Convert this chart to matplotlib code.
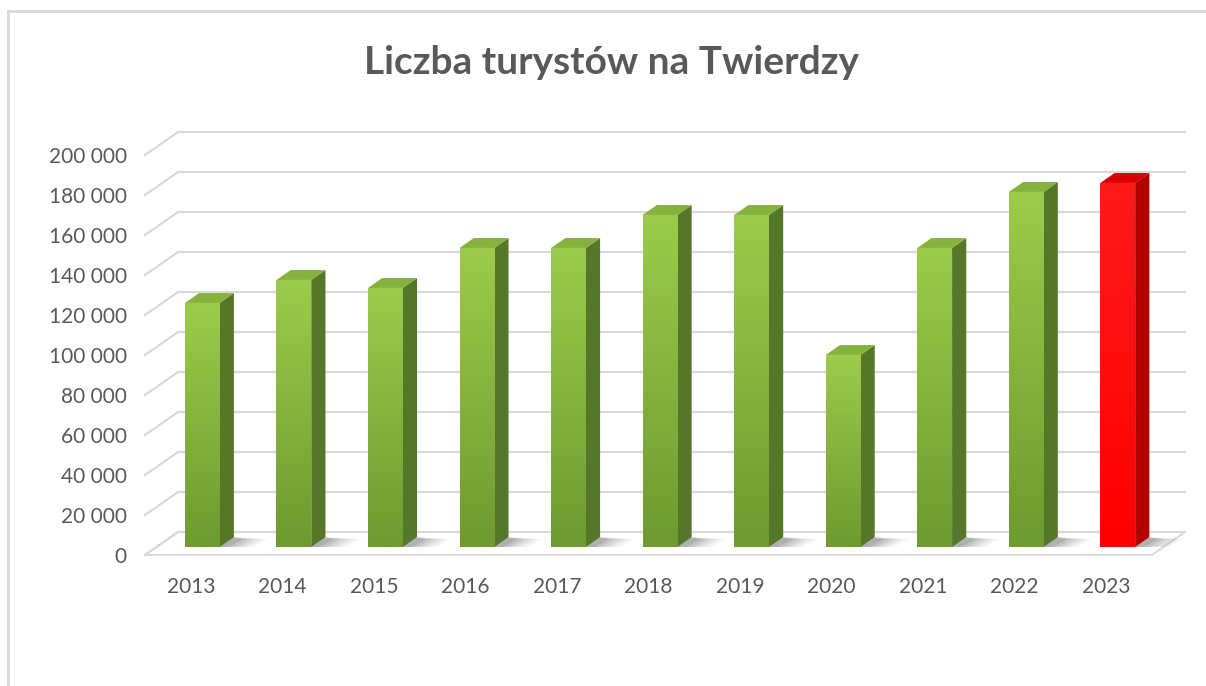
import numpy as np
import matplotlib
matplotlib.use("Agg")
import matplotlib.pyplot as plt
from matplotlib.patches import Polygon, Rectangle
from matplotlib.lines import Line2D

# data
years = ["2013", "2014", "2015", "2016", "2017", "2018", "2019", "2020", "2021", "2022", "2023"]
visitors = [122000, 133500, 129500, 149500, 149500, 166000, 166000, 96000, 149500, 177500, 182000]
highlight = "2023"
y_ticks = list(range(0, 200001, 20000))
y_labels = ["{:,}".format(v).replace(",", " ") for v in y_ticks]

plt.rcParams["font.family"] = ["Lato", "DejaVu Sans"]

W, H = 1206, 686
fig = plt.figure(figsize=(W / 100, H / 100), dpi=100)
# front plane of the 3d box in pixels: x 145..1152, y 555..155
ax = fig.add_axes([145 / W, (H - 555) / H, (1152 - 145) / W, 400 / H])
n = len(years)
ax.set_xlim(-0.5, n - 0.5)
ax.set_ylim(0, 200000)
for s in ax.spines.values():
    s.set_visible(False)

# depth of the box expressed in data units (33 px right, 23 px up)
DX = 33 / (1007 / n)
DY = 23 / 400 * 200000

grid_c = "#d9d9d9"
x0, x1 = -0.5, n - 0.5
for v in y_ticks:
    ax.add_line(Line2D([x0 + DX, x1 + DX], [v + DY, v + DY], color=grid_c, lw=1.6, clip_on=False))
    ax.add_line(Line2D([x0, x0 + DX], [v, v + DY], color=grid_c, lw=1.6, clip_on=False))
# floor
ax.add_patch(Polygon([[x0, 0], [x1, 0], [x1 + DX, DY], [x0 + DX, DY]], closed=True,
                     facecolor="white", edgecolor=grid_c, lw=1.4, clip_on=False, zorder=1))

bw = 0.38
d0, d1 = 0.35, 0.78   # bar front / back as fraction of depth
grad = np.linspace(0, 1, 100).reshape(-1, 1)
for i, (yr, v) in enumerate(zip(years, visitors)):
    if yr == highlight:
        top_c, bot_c, side_c, lid_c = "#ff1a1a", "#ff0000", "#b00000", "#d80000"
    else:
        top_c, bot_c, side_c, lid_c = "#9ccb4b", "#6e9a30", "#56762a", "#85b23c"
    xl = i - bw / 2 + d0 * DX
    xr = i + bw / 2 + d0 * DX
    yb = d0 * DY
    ddx = (d1 - d0) * DX
    ddy = (d1 - d0) * DY
    # soft shadow on the floor
    for k, a in enumerate([0.07, 0.08, 0.10, 0.13, 0.16]):
        w = 0.36 - k * 0.065
        ax.add_patch(Polygon([[xr - 0.05, yb], [xr + w, yb], [xr + w + ddx, yb + ddy * 0.8],
                              [xr + ddx - 0.05, yb + ddy]],
                             closed=True, facecolor="#505050", edgecolor="none", alpha=a,
                             clip_on=False, zorder=2))
    # side face
    ax.add_patch(Polygon([[xr, yb], [xr + ddx, yb + ddy], [xr + ddx, yb + v + ddy], [xr, yb + v]],
                         closed=True, facecolor=side_c, edgecolor="none", clip_on=False, zorder=3))
    # top face
    ax.add_patch(Polygon([[xl, yb + v], [xr, yb + v], [xr + ddx, yb + v + ddy], [xl + ddx, yb + v + ddy]],
                         closed=True, facecolor=lid_c, edgecolor="none", clip_on=False, zorder=3))
    # front face with vertical gradient
    front = Rectangle((xl, yb), xr - xl, v, facecolor=bot_c, edgecolor="none", clip_on=False, zorder=4)
    ax.add_patch(front)
    cmap = matplotlib.colors.LinearSegmentedColormap.from_list("g", [bot_c, top_c])
    im = ax.imshow(grad, cmap=cmap, extent=(xl, xr, yb, yb + v), origin="lower",
                   aspect="auto", zorder=5, interpolation="bilinear")
    im.set_clip_path(front)

ax.set_xlim(-0.5, n - 0.5)
ax.set_ylim(0, 200000)
ax.set_xticks(range(n))
ax.set_xticklabels(years)
ax.set_yticks(y_ticks)
ax.set_yticklabels(y_labels)
ax.tick_params(length=0, labelsize=15, labelcolor="#595959")
ax.tick_params(axis="y", pad=13)
ax.tick_params(axis="x", pad=16)

fig.text(612 / W, 1 - 62 / H, "Liczba turystów na Twierdzy", ha="center", va="center",
         fontsize=28, fontweight="bold", color="#595959")

# chart border (top and left edges are visible)
fig.add_artist(Line2D([8 / W, 8 / W], [0, 1 - 11 / H], color="#d9d9d9", lw=2))
fig.add_artist(Line2D([8 / W, 1], [1 - 11 / H, 1 - 11 / H], color="#d9d9d9", lw=2))

fig.savefig("out.png", dpi=100)
